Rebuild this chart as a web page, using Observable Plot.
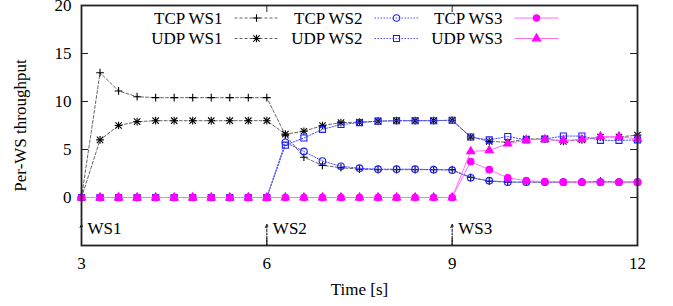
<!DOCTYPE html>
<html>
<head>
<meta charset="utf-8">
<script src="https://cdn.jsdelivr.net/npm/d3@7"></script>
<script src="https://cdn.jsdelivr.net/npm/@observablehq/plot@0.6"></script>
<style>
  html, body { margin: 0; padding: 0; background: #fff; }
  #chart svg, #chart svg text { font-family: "Liberation Serif", serif !important; }
</style>
</head>
<body>
<div id="chart"></div>
<script>
// ---- data ----
const time = [3.0, 3.3, 3.6, 3.9, 4.2, 4.5, 4.8, 5.1, 5.4, 5.7, 6.0,
              6.3, 6.6, 6.9, 7.2, 7.5, 7.8, 8.1, 8.4, 8.7, 9.0,
              9.3, 9.6, 9.9, 10.2, 10.5, 10.8, 11.1, 11.4, 11.7, 12.0];
const tcpWS1 = [0, 13.0, 11.1, 10.5, 10.4, 10.4, 10.4, 10.4, 10.4, 10.4, 10.4,
                6.5, 4.2, 3.35, 3.1, 2.95, 2.9, 2.9, 2.9, 2.9, 2.9,
                2.1, 1.7, 1.6, 1.6, 1.6, 1.6, 1.6, 1.7, 1.6, 1.6];
const udpWS1 = [0, 6.0, 7.5, 7.9, 8.0, 8.0, 8.0, 8.0, 8.0, 8.0, 8.0,
                6.6, 6.9, 7.5, 7.8, 7.85, 7.95, 8.0, 8.0, 8.0, 8.05,
                6.3, 5.85, 5.75, 6.1, 6.1, 5.85, 6.0, 6.3, 6.3, 6.5];
const tcpWS2 = [0, 0, 0, 0, 0, 0, 0, 0, 0, 0, 0,
                5.75, 4.8, 3.8, 3.25, 3.05, 2.95, 2.95, 2.95, 2.9, 2.85,
                2.05, 1.75, 1.6, 1.6, 1.6, 1.6, 1.6, 1.6, 1.6, 1.6];
const udpWS2 = [0, 0, 0, 0, 0, 0, 0, 0, 0, 0, 0,
                5.45, 6.2, 7.1, 7.6, 7.8, 7.95, 8.0, 8.0, 8.0, 8.05,
                6.3, 6.0, 6.35, 6.0, 6.1, 6.4, 6.4, 5.95, 5.95, 6.0];
const tcpWS3 = [0, 0, 0, 0, 0, 0, 0, 0, 0, 0, 0,
                0, 0, 0, 0, 0, 0, 0, 0, 0, 0,
                3.75, 2.9, 2.05, 1.75, 1.65, 1.6, 1.6, 1.6, 1.6, 1.6];
const udpWS3 = [0, 0, 0, 0, 0, 0, 0, 0, 0, 0, 0,
                0, 0, 0, 0, 0, 0, 0, 0, 0, 0,
                4.8, 4.9, 5.6, 6.0, 6.05, 5.95, 6.05, 6.35, 6.35, 6.1];
const seriesNames = ["TCP WS1", "UDP WS1", "TCP WS2", "UDP WS2", "TCP WS3", "UDP WS3"];
const seriesValues = [tcpWS1, udpWS1, tcpWS2, udpWS2, tcpWS3, udpWS3];
const xTicks = [3, 6, 9, 12];
const yTicks = [0, 5, 10, 15, 20];
const wsStarts = [3, 6, 9];
const wsLabels = ["WS1", "WS2", "WS3"];

// ---- styles ----
const styles = {
  "TCP WS1": {line: "#666", dash: "3,2", mark: "#000", symbols: [["plus", 2.6]], fill: "none"},
  "UDP WS1": {line: "#666", dash: "3,2", mark: "#000", symbols: [["plus", 2.6], ["times", 3.0]], fill: "none"},
  "TCP WS2": {line: "#5050ff", dash: "1.5,1.5", mark: "#1a1aff", symbols: [["circle", 3.3]], fill: "none"},
  "UDP WS2": {line: "#5050ff", dash: "1.5,1.5", mark: "#1a1aff", symbols: [["square", 3.4]], fill: "none"},
  "TCP WS3": {line: "#ff70ff", dash: null, mark: "#ff00ff", symbols: [["circle", 3.3]], fill: "#ff00ff"},
  "UDP WS3": {line: "#ff70ff", dash: null, mark: "#ff00ff", symbols: [["triangle", 3.0]], fill: "#ff00ff"}
};

const W = 673, H = 306;
const mL = 81, mR = 36, mT = 5, mB = 61;
const plotW = W - mL - mR, plotH = H - mT - mB;
const FS = 17;
const FONT = '"Liberation Serif", serif';

const rows = seriesNames.flatMap((name, k) =>
  seriesValues[k].map((v, i) => ({series: name, t: time[i], v})));

const seriesMarks = seriesNames.flatMap(name => {
  const s = styles[name];
  const d = rows.filter(r => r.series === name);
  const marks = [Plot.line(d, {x: "t", y: "v", stroke: s.line, strokeWidth: 1,
    strokeDasharray: s.dash || undefined})];
  for (const [sym, r] of s.symbols) {
    marks.push(Plot.dot(d, {x: "t", y: "v", symbol: sym, r,
      stroke: s.mark, fill: s.fill, strokeWidth: 1.1}));
  }
  return marks;
});

const chart = Plot.plot({
  width: W, height: H,
  marginLeft: mL, marginRight: mR, marginTop: mT, marginBottom: mB,
  style: {fontFamily: FONT, fontSize: FS + "px", background: "#fff", color: "#000"},
  x: {domain: [3, 12]},
  y: {domain: [-5, 20]},
  marks: [
    Plot.axisX(xTicks, {tickSize: 0, tickPadding: 11, fontSize: FS, label: null}),
    Plot.axisY(yTicks, {tickSize: 0, tickPadding: 10, fontSize: FS, label: null}),
    // inward mirrored ticks
    Plot.tickY(yTicks, {y: d => d, insetRight: plotW - 7, stroke: "#222"}),
    Plot.tickY(yTicks, {y: d => d, insetLeft: plotW - 7, stroke: "#222"}),
    Plot.tickX(xTicks, {x: d => d, insetTop: plotH - 7, stroke: "#222"}),
    Plot.tickX(xTicks, {x: d => d, insetBottom: plotH - 7, stroke: "#222"}),
    ...seriesMarks,
    // workload start arrows
    Plot.arrow(wsStarts, {x1: d => d, x2: d => d, y1: -5, y2: -2.8,
      stroke: "#000", strokeWidth: 1, strokeDasharray: "2,1.5", headLength: 5, headAngle: 50}),
    Plot.text(wsStarts, {x: d => d, y: -3.2, text: (d, i) => wsLabels[i], dx: 6,
      textAnchor: "start", fontSize: FS, fill: "#000"}),
    Plot.frame({stroke: "#222", strokeWidth: 1.8}),
    Plot.text(["Time [s]"], {frameAnchor: "bottom", dy: 44, lineAnchor: "middle", textAnchor: "middle",
      fontSize: FS, fill: "#000"}),
    Plot.text(["Per-WS throughput"], {frameAnchor: "left", dx: -61, rotate: -90,
      textAnchor: "middle", lineAnchor: "middle", fontSize: FS, fill: "#000"})
  ]
});

// ---- legend (inside the frame, top) ----
const svg = d3.select(chart);
svg.style("font-family", FONT).attr("font-family", FONT);
svg.selectAll("text").attr("font-family", FONT);
const lg = svg.append("g").attr("class", "legend").attr("font-family", FONT);
const symMap = {plus: d3.symbolPlus, times: d3.symbolTimes, circle: d3.symbolCircle,
  square: d3.symbolSquare, triangle: d3.symbolTriangle};
const legendOrder = [["TCP WS1", 0, 0], ["TCP WS2", 1, 0], ["TCP WS3", 2, 0],
                     ["UDP WS1", 0, 1], ["UDP WS2", 1, 1], ["UDP WS3", 2, 1]];
for (const [name, c, r] of legendOrder) {
  const s = styles[name];
  const cx = mL + 175.5 + c * 140;
  const cy = mT + 13 + r * 20.5;
  lg.append("text").attr("x", cx - 34).attr("y", cy).attr("dy", "0.35em")
    .attr("text-anchor", "end").attr("font-size", FS).attr("fill", "#000")
    .attr("font-family", FONT).text(name);
  lg.append("line").attr("x1", cx - 22).attr("x2", cx + 22).attr("y1", cy).attr("y2", cy)
    .attr("stroke", s.line).attr("stroke-width", 1).attr("stroke-dasharray", s.dash || null);
  for (const [sym, rr] of s.symbols) {
    lg.append("path").attr("transform", `translate(${cx},${cy})`)
      .attr("d", d3.symbol(symMap[sym], Math.PI * rr * rr)())
      .attr("stroke", s.mark).attr("fill", s.fill).attr("stroke-width", 1.1);
  }
}

document.getElementById("chart").appendChild(chart);
</script>
</body>
</html>
